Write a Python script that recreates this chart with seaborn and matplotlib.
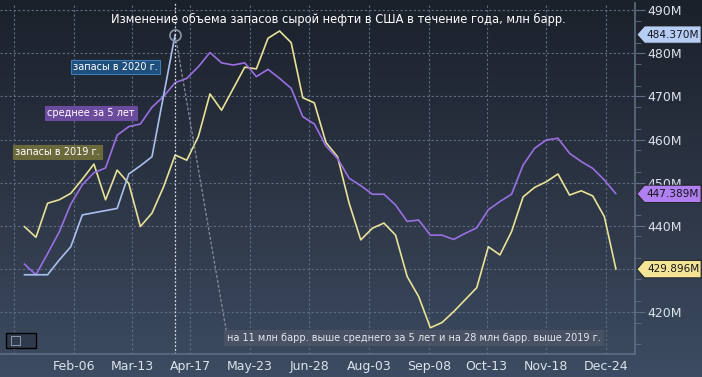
import numpy as np
import pandas as pd
import seaborn as sns
import matplotlib.pyplot as plt
from matplotlib.colors import LinearSegmentedColormap
from matplotlib.patches import Polygon, Rectangle
from matplotlib.transforms import blended_transform_factory

# --- data (mln barrels, weekly)
start_date = "2019-01-07"
stocks_2019 = [439.8, 437.3, 445.2, 446.0, 447.5, 450.8, 454.3, 446.0, 452.9, 449.8,
               439.8, 442.9, 449.0, 456.4, 455.2, 460.7, 470.6, 466.8, 471.8, 476.8,
               476.4, 483.5, 485.2, 482.5, 469.7, 468.5, 459.3, 456.0, 445.2, 436.7,
               439.4, 440.6, 437.8, 428.2, 423.5, 416.3, 417.5, 420.0, 422.8, 425.6,
               435.1, 433.2, 438.6, 446.7, 448.9, 450.2, 452.0, 447.1, 448.1, 446.9,
               442.1, 429.896]
avg_5y = [431.1, 428.6, 433.5, 438.5, 445.0, 449.5, 452.3, 453.4, 461.0, 463.0,
          463.6, 467.5, 470.0, 473.2, 474.2, 476.9, 480.2, 477.8, 477.3, 477.8,
          474.6, 476.3, 474.2, 471.9, 465.3, 463.6, 458.5, 455.6, 451.0, 449.3,
          447.3, 447.3, 444.8, 441.0, 441.3, 437.8, 437.8, 436.8, 438.2, 439.5,
          443.7, 445.6, 447.3, 454.1, 458.0, 459.9, 460.3, 456.8, 454.9, 453.3,
          450.6, 447.389]
stocks_2020 = [428.6, 428.6, 428.6, 432.0, 435.1, 442.5, 443.0, 443.5, 444.0, 452.0,
               453.9, 456.0, 470.2, 484.370]

series_names = ["запасы в 2019 г.", "среднее за 5 лет", "запасы в 2020 г."]
tick_dates = ["2019-01-01", "2019-02-06", "2019-03-13", "2019-04-17", "2019-05-23",
              "2019-06-28", "2019-08-03", "2019-09-08", "2019-10-13", "2019-11-18",
              "2019-12-24"]
tick_labels = ["", "Feb-06", "Mar-13", "Apr-17", "May-23", "Jun-28", "Aug-03",
               "Sep-08", "Oct-13", "Nov-18", "Dec-24"]
y_ticks = [420, 430, 440, 450, 460, 470, 480, 490]

title = "Изменение объема запасов сырой нефти в США в течение года, млн барр."
note = "на 11 млн барр. выше среднего за 5 лет и на 28 млн барр. выше 2019 г."

# --- long table for seaborn
dates = pd.date_range(start_date, periods=len(stocks_2019), freq="7D")
df = pd.concat([
    pd.DataFrame({"date": dates, "value": stocks_2019, "series": series_names[0]}),
    pd.DataFrame({"date": dates, "value": avg_5y, "series": series_names[1]}),
    pd.DataFrame({"date": dates[:len(stocks_2020)], "value": stocks_2020, "series": series_names[2]}),
])

# --- Colors
line_colors = {series_names[0]: "#e8e196", series_names[1]: "#9a6fe4", series_names[2]: "#a9c0ef"}
box_colors = {series_names[0]: "#6b6a3c", series_names[1]: "#6a4b9e", series_names[2]: "#1f4f7c"}
tag_colors = {series_names[0]: "#f3e496", series_names[1]: "#b07ff0", series_names[2]: "#b6cef5"}
text_col = "#dde2ea"
grid_col = "#5d6d84"

sns.set_style("dark")
plt.rcParams["font.family"] = ["DejaVu Sans"]

fig = plt.figure(figsize=(7.02, 3.77), dpi=100)

# background gradient
bg = fig.add_axes([0, 0, 1, 1], zorder=0)
cmap = LinearSegmentedColormap.from_list("bg", ["#1b212b", "#2c3544", "#3d4c62"])
bg.imshow(np.linspace(0, 1, 256).reshape(-1, 1), aspect="auto", cmap=cmap,
          extent=[0, 1, 0, 1], origin="upper")
bg.set_axis_off()

ax = fig.add_axes([0, 23 / 377, 635 / 702, 351 / 377], zorder=1)
ax.patch.set_alpha(0)

sns.lineplot(data=df, x="date", y="value", hue="series", palette=line_colors,
             linewidth=1.2, legend=False, ax=ax)

first = pd.Timestamp(start_date)
ax.set_xlim(first - pd.Timedelta(days=14.7), first + pd.Timedelta(days=368.5))
ax.set_ylim(410.2, 491.7)

ax.set_xticks(pd.to_datetime(tick_dates))
ax.set_xticklabels(tick_labels)
ax.yaxis.tick_right()
ax.set_yticks(y_ticks)
ax.set_yticklabels([f"{v}M" for v in y_ticks])
ax.set_yticks(np.arange(412.5, 491, 5), minor=True)
ax.tick_params(axis="x", colors=text_col, labelsize=9, length=3, pad=1, color=grid_col)
ax.tick_params(axis="y", colors=text_col, labelsize=9, length=7, pad=2, color=grid_col)
ax.tick_params(axis="y", which="minor", length=4, color=grid_col)
ax.set_xlabel("")
ax.set_ylabel("")
ax.grid(True, color=grid_col, linestyle=(0, (2, 2)), linewidth=0.8)
for s in ["top", "left"]:
    ax.spines[s].set_visible(False)
for s in ["bottom", "right"]:
    ax.spines[s].set_visible(True)
    ax.spines[s].set_color(grid_col)
    ax.spines[s].set_linewidth(1.2)

# crosshair on last 2020 point
last_date = dates[len(stocks_2020) - 1]
ax.axvline(last_date, color="#d8dde5", linestyle=(0, (1.5, 1.5)), linewidth=0.9)
ax.plot([last_date], [stocks_2020[-1]], marker="o", markersize=8, markerfacecolor="none",
        markeredgecolor="#8a96a8", markeredgewidth=1.2)

fig.text(338 / 702, 1 - 19 / 377, title, color="white", fontsize=8.3, ha="center", va="center")

# series labels
label_pos = [(15, 152), (47, 113), (73, 67)]
for name, (px, py) in zip(series_names, label_pos):
    fig.text(px / 702, 1 - py / 377, name, color="white", fontsize=7, va="center", ha="left",
             bbox=dict(boxstyle="square,pad=0.25", facecolor=box_colors[name],
                       edgecolor="#3f7db6" if name == series_names[2] else box_colors[name],
                       linewidth=0.8))

# right side value tags
tr = blended_transform_factory(ax.transAxes, ax.transData)
last_vals = {series_names[0]: stocks_2019[-1], series_names[1]: avg_5y[-1],
             series_names[2]: stocks_2020[-1]}
h = 2.0
for name, v in last_vals.items():
    poly = Polygon([(1.003, v), (1.015, v + h), (1.104, v + h), (1.104, v - h), (1.015, v - h)],
                   closed=True, transform=tr, facecolor=tag_colors[name], edgecolor="#1a1a1a",
                   linewidth=0.6, clip_on=False, zorder=5)
    ax.add_patch(poly)
    ax.text(1.060, v, f"{v:.3f}M", transform=tr, ha="center", va="center", fontsize=7.6,
            color="#15161a", clip_on=False, zorder=6)

# note with leader line
ax.annotate(note, xy=(last_date, stocks_2020[-1]), xytext=(0.358, 0.045),
            textcoords="axes fraction", color="#e4e7ec", fontsize=7, ha="left", va="center",
            bbox=dict(boxstyle="square,pad=0.3", facecolor="#4b5566", edgecolor="none", alpha=0.85),
            arrowprops=dict(arrowstyle="-", color="#7d8797", linestyle=(0, (1.5, 2)), linewidth=1,
                            shrinkA=0, shrinkB=5, relpos=(0, 0.6)))

# little chart-type widget
fig.patches.append(Rectangle((6 / 702, 1 - 348 / 377), 30 / 702, 15 / 377, transform=fig.transFigure,
                             facecolor="#2f3b4c", edgecolor="black", linewidth=1, zorder=3))
fig.patches.append(Rectangle((11 / 702, 1 - 345 / 377), 9 / 702, 9 / 377, transform=fig.transFigure,
                             facecolor="none", edgecolor="#8d99aa", linewidth=0.7, zorder=4))

plt.savefig("out.png", dpi=100)
